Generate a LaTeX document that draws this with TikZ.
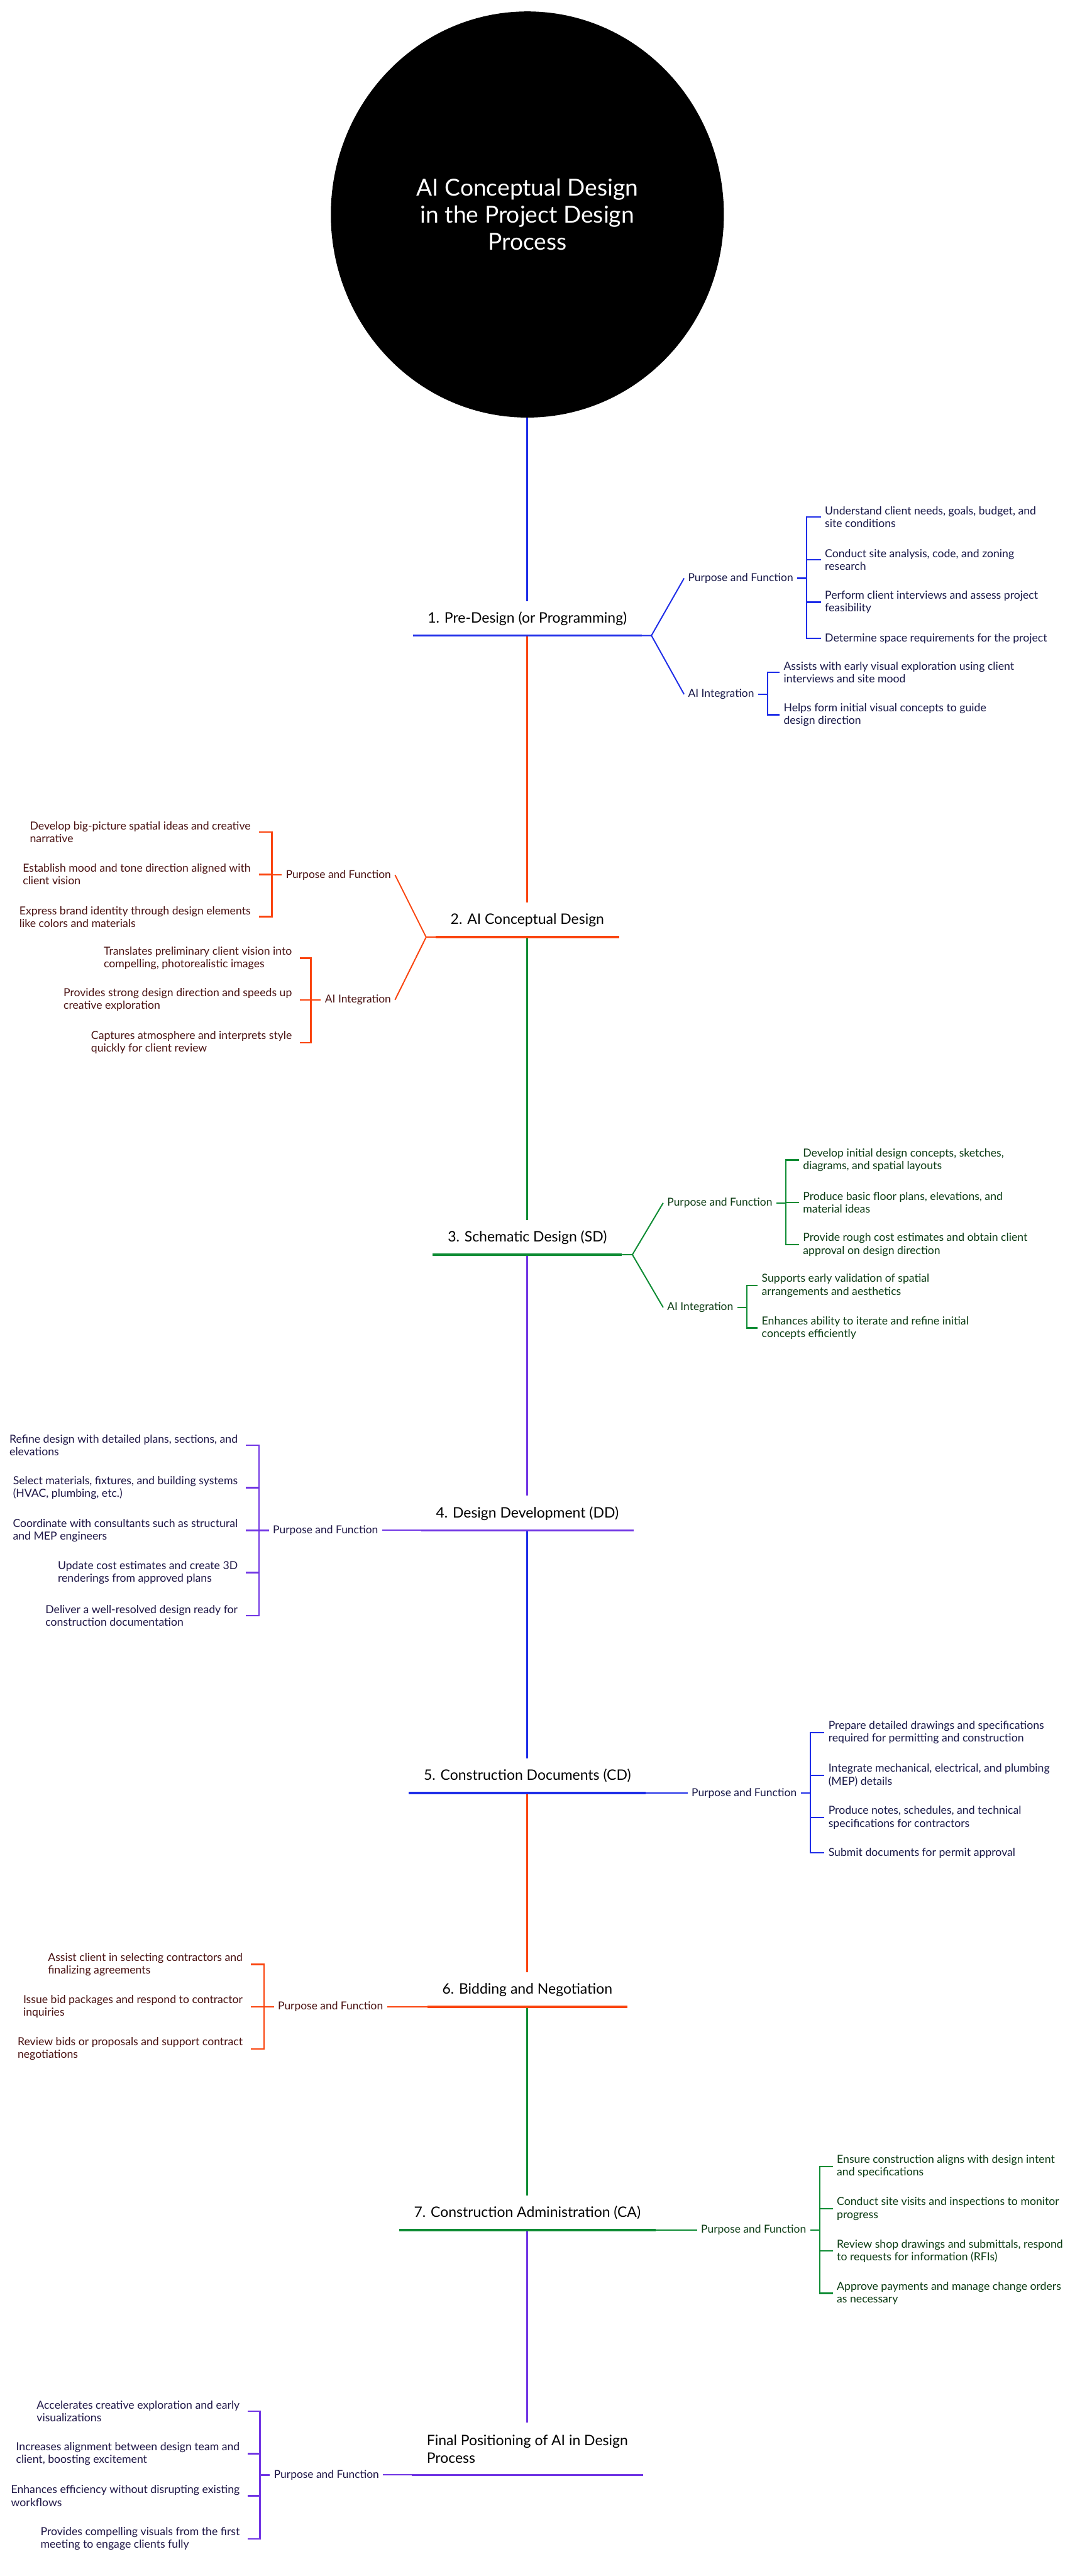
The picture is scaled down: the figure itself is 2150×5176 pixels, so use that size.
\documentclass[tikz,border=0pt]{standalone}
\usepackage{fontspec}
\setmainfont{Lato}
\usetikzlibrary{shapes.geometric, calc}
\definecolor{cblue}{RGB}{30,45,232}
\definecolor{corange}{RGB}{250,68,14}
\definecolor{cgreen}{RGB}{14,140,52}
\definecolor{cpurple}{RGB}{112,52,228}
\definecolor{tblue}{RGB}{24,24,72}
\definecolor{torange}{RGB}{74,18,18}
\definecolor{tgreen}{RGB}{12,60,20}
\definecolor{tpurple}{RGB}{30,22,70}

\begin{document}
\begin{tikzpicture}[x=1pt, y=-1pt,
  spine/.style={line width=4pt},
  uline/.style={line width=4.5pt},
  twig/.style={line width=2.5pt},
  brk/.style={line width=3pt},
  stage/.style={anchor=south, inner xsep=30pt, inner ysep=20.5pt, text height=23pt, text depth=5pt, font=\fontsize{29}{35}\selectfont},
  cat/.style={inner xsep=8pt, inner ysep=0pt, font=\fontsize{22}{25.5}\selectfont},
  itemR/.style={anchor=west, align=left, inner xsep=8pt, inner ysep=0pt, font=\fontsize{22.3}{25.5}\selectfont},
  itemL/.style={anchor=east, align=left, inner xsep=16pt, inner ysep=0pt, font=\fontsize{22.3}{25.5}\selectfont}]
  \fill[white] (0,0) rectangle (2150,5176);
  \useasboundingbox (0,0) rectangle (2150,5176);

  \node[ellipse, fill=black, text=white, minimum width=790pt, minimum height=816pt, inner sep=0pt, align=center,
    font=\fontsize{47}{54}\selectfont] (root) at (1060,431) {AI Conceptual Design\\in the Project Design\\Process};

  \node[stage] (s1) at (1060,1277) {1. Pre-Design (or Programming)};
  \node[stage] (s2) at (1060,1883) {2. AI Conceptual Design};
  \node[stage] (s3) at (1060,2521) {3. Schematic Design (SD)};
  \node[stage] (s4) at (1060,3075) {4. Design Development (DD)};
  \node[stage] (s5) at (1060,3603) {5. Construction Documents (CD)};
  \node[stage] (s6) at (1060,4032) {6. Bidding and Negotiation};
  \node[stage] (s7) at (1060,4481) {7. Construction Administration (CA)};
  \node[anchor=south, inner xsep=30pt, inner ysep=24pt, align=left, font=\fontsize{29}{35}\selectfont]
    (s8) at (1060,4973) {Final Positioning of AI in Design\\Process};

  \foreach \a/\b/\c in {root/s1/cblue, s1/s2/corange, s2/s3/cgreen, s3/s4/cpurple,
                         s4/s5/cblue, s5/s6/corange, s6/s7/cgreen, s7/s8/cpurple}
    \draw[spine, \c] (\a.south) -- (\b.north);

  \node[cat, anchor=west, text=tblue] (p1) at (1375,1162) {Purpose and Function};
  \node[cat, anchor=west, text=tblue] (a1) at (1375,1395) {AI Integration};
  \node[cat, anchor=east, text=torange] (p2) at (794,1758) {Purpose and Function};
  \node[cat, anchor=east, text=torange] (a2) at (794,2009) {AI Integration};
  \node[cat, anchor=west, text=tgreen] (p3) at (1333,2417) {Purpose and Function};
  \node[cat, anchor=west, text=tgreen] (a3) at (1333,2627) {AI Integration};
  \node[cat, anchor=east, text=tpurple] (p4) at (768,3075) {Purpose and Function};
  \node[cat, anchor=west, text=tblue] (p5) at (1382,3603) {Purpose and Function};
  \node[cat, anchor=east, text=torange] (p6) at (778,4032) {Purpose and Function};
  \node[cat, anchor=west, text=tgreen] (p7) at (1401,4481) {Purpose and Function};
  \node[cat, anchor=east, text=tpurple] (p8) at (770,4973) {Purpose and Function};

  \draw[twig, cblue] (s1.south east) -- ++(19,0) coordinate (j1) -- (p1.west) (j1) -- (a1.west);
  \draw[twig, corange] (s2.south west) -- ++(-19,0) coordinate (j2) -- (p2.east) (j2) -- (a2.east);
  \draw[twig, cgreen] (s3.south east) -- ++(21,0) coordinate (j3) -- (p3.west) (j3) -- (a3.west);
  \draw[twig, cpurple] (s4.south west) -- (p4.east);
  \draw[twig, cblue] (s5.south east) -- (p5.west);
  \draw[twig, corange] (s6.south west) -- (p6.east);
  \draw[twig, cgreen] (s7.south east) -- (p7.west);
  \draw[twig, cpurple] (s8.south west) -- (p8.east);

  \foreach \s/\c in {s1/cblue, s2/corange, s3/cgreen, s4/cpurple, s5/cblue, s6/corange, s7/cgreen, s8/cpurple}
    \draw[uline, \c] (\s.south west) -- (\s.south east);

  \draw[brk, cblue] (p1.east) -- ++(19,0) coordinate (p1b);
  \foreach \y/\t [count=\i] in {1039/{Understand client needs, goals, budget, and\\site conditions},
      1125/{Conduct site analysis, code, and zoning\\research},
      1210/{Perform client interviews and assess project\\feasibility},
      1283/{Determine space requirements for the project}} {
    \node[itemR, text=tblue] (p1-\i) at (1650,\y) {\t};
    \draw[brk, cblue] (p1b) |- (p1-\i.west);
  }
  \draw[brk, cblue] (a1.east) -- ++(19,0) coordinate (a1b);
  \foreach \y/\t [count=\i] in {1351/{Assists with early visual exploration using client\\interviews and site mood},
      1436/{Helps form initial visual concepts to guide\\design direction}} {
    \node[itemR, text=tblue] (a1-\i) at (1567,\y) {\t};
    \draw[brk, cblue] (a1b) |- (a1-\i.west);
  }

  \draw[brk, corange] (p2.west) -- ++(-20,0) coordinate (p2b);
  \foreach \y/\t [count=\i] in {1672/{Develop big-picture spatial ideas and creative\\narrative},
      1757/{Establish mood and tone direction aligned with\\client vision},
      1842/{Express brand identity through design elements\\like colors and materials}} {
    \node[itemL, text=torange] (p2-\i) at (520,\y) {\t};
    \draw[brk, corange] (p2b) |- (p2-\i.east);
  }
  \draw[brk, corange] (a2.west) -- ++(-20,0) coordinate (a2b);
  \foreach \y/\t [count=\i] in {1925/{Translates preliminary client vision into\\compelling, photorealistic images},
      2009/{Provides strong design direction and speeds up\\creative exploration},
      2095/{Captures atmosphere and interprets style\\quickly for client review}} {
    \node[itemL, text=torange] (a2-\i) at (603,\y) {\t};
    \draw[brk, corange] (a2b) |- (a2-\i.east);
  }

  \draw[brk, cgreen] (p3.east) -- ++(19,0) coordinate (p3b);
  \foreach \y/\t [count=\i] in {2331/{Develop initial design concepts, sketches,\\diagrams, and spatial layouts},
      2416/{Produce basic floor plans, elevations, and\\material ideas},
      2501/{Provide rough cost estimates and obtain client\\approval on design direction}} {
    \node[itemR, text=tgreen] (p3-\i) at (1606,\y) {\t};
    \draw[brk, cgreen] (p3b) |- (p3-\i.west);
  }
  \draw[brk, cgreen] (a3.east) -- ++(19,0) coordinate (a3b);
  \foreach \y/\t [count=\i] in {2583/{Supports early validation of spatial\\arrangements and aesthetics},
      2668/{Enhances ability to iterate and refine initial\\concepts efficiently}} {
    \node[itemR, text=tgreen] (a3-\i) at (1523,\y) {\t};
    \draw[brk, cgreen] (a3b) |- (a3-\i.west);
  }

  \draw[brk, cpurple] (p4.west) -- ++(-20,0) coordinate (p4b);
  \foreach \y/\t [count=\i] in {2904/{Refine design with detailed plans, sections, and\\elevations},
      2989/{Select materials, fixtures, and building systems\\(HVAC, plumbing, etc.)},
      3075/{Coordinate with consultants such as structural\\and MEP engineers},
      3160/{Update cost estimates and create 3D\\renderings from approved plans},
      3246/{Deliver a well-resolved design ready for\\construction documentation}} {
    \node[itemL, text=tpurple] (p4-\i) at (494,\y) {\t};
    \draw[brk, cpurple] (p4b) |- (p4-\i.east);
  }

  \draw[brk, cblue] (p5.east) -- ++(19,0) coordinate (p5b);
  \foreach \y/\t [count=\i] in {3481/{Prepare detailed drawings and specifications\\required for permitting and construction},
      3567/{Integrate mechanical, electrical, and plumbing\\(MEP) details},
      3652/{Produce notes, schedules, and technical\\specifications for contractors},
      3723/{Submit documents for permit approval}} {
    \node[itemR, text=tblue] (p5-\i) at (1657,\y) {\t};
    \draw[brk, cblue] (p5b) |- (p5-\i.west);
  }

  \draw[brk, corange] (p6.west) -- ++(-20,0) coordinate (p6b);
  \foreach \y/\t [count=\i] in {3947/{Assist client in selecting contractors and\\finalizing agreements},
      4032/{Issue bid packages and respond to contractor\\inquiries},
      4117/{Review bids or proposals and support contract\\negotiations}} {
    \node[itemL, text=torange] (p6-\i) at (504,\y) {\t};
    \draw[brk, corange] (p6b) |- (p6-\i.east);
  }

  \draw[brk, cgreen] (p7.east) -- ++(19,0) coordinate (p7b);
  \foreach \y/\t [count=\i] in {4353/{Ensure construction aligns with design intent\\and specifications},
      4438/{Conduct site visits and inspections to monitor\\progress},
      4523/{Review shop drawings and submittals, respond\\to requests for information (RFIs)},
      4608/{Approve payments and manage change orders\\as necessary}} {
    \node[itemR, text=tgreen] (p7-\i) at (1674,\y) {\t};
    \draw[brk, cgreen] (p7b) |- (p7-\i.west);
  }

  \draw[brk, cpurple] (p8.west) -- ++(-20,0) coordinate (p8b);
  \foreach \y/\t [count=\i] in {4845/{Accelerates creative exploration and early\\visualizations},
      4930/{Increases alignment between design team and\\client, boosting excitement},
      5015/{Enhances efficiency without disrupting existing\\workflows},
      5101/{Provides compelling visuals from the first\\meeting to engage clients fully}} {
    \node[itemL, text=tpurple] (p8-\i) at (498,\y) {\t};
    \draw[brk, cpurple] (p8b) |- (p8-\i.east);
  }
\end{tikzpicture}
\end{document}
